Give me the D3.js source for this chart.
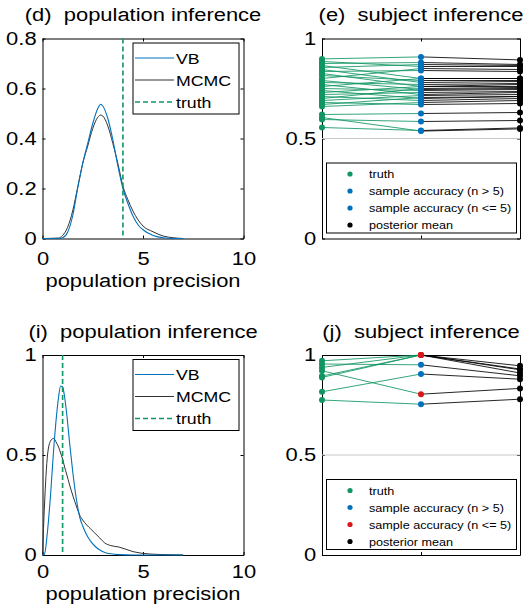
<!DOCTYPE html>
<html>
<head>
<meta charset="utf-8">
<script src="https://cdn.jsdelivr.net/npm/d3@7"></script>
<style>
body { margin: 0; background: #fff; }
svg { display: block; font-family: "Liberation Sans", Arial, sans-serif; }
</style>
</head>
<body>
<div id="fig"></div>
<script>
// ---- data ----
// (d) population inference
var precD  = [0, 0.8, 1.0, 1.25, 1.5, 1.75, 2.0, 2.25, 2.5, 2.75, 2.9, 3.0, 3.25, 3.5, 3.75, 4.0, 4.25, 4.5, 4.75, 5.0, 5.5, 6.0, 6.5, 7.0];
var vbD    = [0, 0, 0.003, 0.025, 0.09, 0.2, 0.3, 0.38, 0.46, 0.52, 0.537, 0.53, 0.48, 0.395, 0.29, 0.2, 0.14, 0.09, 0.055, 0.035, 0.012, 0.003, 0, 0];
var mcmcD  = [0, 0.002, 0.012, 0.045, 0.11, 0.205, 0.3, 0.37, 0.44, 0.485, 0.494, 0.49, 0.45, 0.38, 0.3, 0.21, 0.155, 0.11, 0.075, 0.05, 0.027, 0.01, 0.003, 0];
var truthD = 4;

// (i) population inference
var precI  = [0, 0.1, 0.25, 0.4, 0.55, 0.7, 0.8, 0.9, 1.0, 1.1, 1.2, 1.35, 1.5, 1.7, 1.85, 2.0, 2.2, 2.4, 2.6, 2.85, 3.1, 3.4, 3.8, 4.5, 5.0, 5.5, 6.0, 6.5, 7.0];
var vbI    = [0, 0.005, 0.12, 0.3, 0.52, 0.7, 0.79, 0.845, 0.84, 0.79, 0.71, 0.56, 0.42, 0.27, 0.19, 0.145, 0.1, 0.068, 0.045, 0.025, 0.013, 0.006, 0.002, 0, 0, 0, 0, 0, 0];
var mcmcI  = [0, 0.25, 0.5, 0.57, 0.583, 0.56, 0.54, 0.51, 0.48, 0.44, 0.405, 0.35, 0.3, 0.24, 0.2, 0.175, 0.15, 0.13, 0.11, 0.085, 0.06, 0.047, 0.04, 0.017, 0.008, 0.004, 0.002, 0.001, 0];
var truthI = 1;

// (e) subject inference: truth, sample accuracy, posterior mean per subject
var truthE  = [0.898, 0.885, 0.875, 0.865, 0.855, 0.845, 0.835, 0.825, 0.815, 0.80, 0.79, 0.78, 0.77, 0.76, 0.75, 0.74, 0.73, 0.72, 0.71, 0.70, 0.69, 0.68, 0.67, 0.66, 0.62, 0.605, 0.595, 0.555];
var sampleE = [0.908, 0.86, 0.88, 0.80, 0.87, 0.78, 0.84, 0.76, 0.79, 0.85, 0.745, 0.77, 0.72, 0.80, 0.74, 0.70, 0.76, 0.73, 0.69, 0.75, 0.715, 0.67, 0.705, 0.68, 0.625, 0.537, 0.585, 0.54];
var postE   = [0.893, 0.86, 0.87, 0.80, 0.865, 0.785, 0.835, 0.77, 0.79, 0.845, 0.75, 0.775, 0.73, 0.80, 0.745, 0.71, 0.76, 0.735, 0.70, 0.755, 0.72, 0.675, 0.71, 0.69, 0.63, 0.548, 0.59, 0.553];
var smallNE = [0, 0, 0, 0, 0, 0, 0, 0, 0, 0, 0, 0, 0, 0, 0, 0, 0, 0, 0, 0, 0, 0, 0, 0, 0, 0, 0, 0];

// (j) subject inference
var truthJ  = [0.971, 0.955, 0.938, 0.921, 0.895, 0.888, 0.816, 0.775];
var sampleJ = [1.0, 0.951, 1.0, 0.804, 1.0, 1.0, 0.905, 0.754];
var postJ   = [0.946, 0.896, 0.926, 0.833, 0.91, 0.93, 0.879, 0.779];
var smallNJ = [1, 0, 1, 1, 1, 1, 0, 0];

var legendPop = ["VB", "MCMC", "truth"];
var legendSubj = ["truth", "sample accuracy (n > 5)", "sample accuracy (n <= 5)", "posterior mean"];

// ---- styling ----
var W = 524, H = 608;
var SX = 1.18;           // glyphs in the original are stretched sideways
var fontBig = 18.6;
var cBlue = "#0072bd", cGreen = "#119562", cRed = "#d7191c", cGrey = "#333333";

var svg = d3.select("#fig").append("svg")
    .attr("width", W)
    .attr("height", H);

svg.append("rect").attr("width", W).attr("height", H).attr("fill", "#fff");

function label(g, x, y, txt, size, anchor) {
    return g.append("text")
        .attr("transform", "translate(" + x + "," + y + ") scale(" + SX + ",1)")
        .attr("text-anchor", anchor || "start")
        .style("font-size", size + "px")
        .style("white-space", "pre")
        .attr("fill", "#000")
        .text(txt);
}

function makePanel(left, top, w, h, xDom, xTicks, showX, xPad, yDom, yTicks) {
    var g = svg.append("g").attr("transform", "translate(" + left + "," + top + ")");
    var x = d3.scaleLinear().domain(xDom).range([0, w]);
    var y = d3.scaleLinear().domain(yDom).range([h, 0]);

    var xAxis = d3.axisBottom(x).tickValues(xTicks).tickSizeInner(-3).tickSizeOuter(0).tickPadding(xPad);
    xAxis.tickFormat(showX ? function(d) { return String(d); } : "");
    var yAxis = d3.axisLeft(y).tickValues(yTicks).tickSizeInner(-3).tickSizeOuter(0).tickPadding(5)
        .tickFormat(function(d) { return String(d); });

    var axes = [
        g.append("g").attr("transform", "translate(0," + h + ")").call(xAxis),
        g.append("g").call(yAxis),
        g.append("g").call(d3.axisTop(x).tickValues(xTicks).tickFormat("").tickSizeInner(-3).tickSizeOuter(0)),
        g.append("g").attr("transform", "translate(" + w + ",0)")
            .call(d3.axisRight(y).tickValues(yTicks).tickFormat("").tickSizeInner(-3).tickSizeOuter(0))
    ];
    axes.forEach(function(a) {
        a.attr("font-size", null).attr("font-family", null);
        a.select(".domain").attr("stroke", "#000");
        a.selectAll(".tick line").attr("stroke", "#000");
        a.selectAll(".tick text")
            .attr("transform", "scale(" + SX + ",1)")
            .style("font-size", fontBig + "px")
            .attr("fill", "#000");
    });
    return {g: g, x: x, y: y, w: w, h: h};
}

function drawPopulation(p, prec, vb, mcmc, truth, title, titleY, xlabY) {
    var line = d3.line()
        .x(function(d) { return p.x(d[0]); })
        .y(function(d) { return p.y(d[1]); })
        .curve(d3.curveMonotoneX);

    p.g.append("path")
        .datum(prec.map(function(v, i) { return [v, mcmc[i]]; }))
        .attr("d", line).attr("fill", "none").attr("stroke", cGrey).attr("stroke-width", 1);
    p.g.append("path")
        .datum(prec.map(function(v, i) { return [v, vb[i]]; }))
        .attr("d", line).attr("fill", "none").attr("stroke", cBlue).attr("stroke-width", 1.1);

    p.g.append("line")
        .attr("x1", p.x(truth)).attr("x2", p.x(truth))
        .attr("y1", 0).attr("y2", p.h)
        .attr("stroke", cGreen).attr("stroke-width", 1.6)
        .attr("stroke-dasharray", "5,3");

    // legend
    var lg = p.g.append("g").attr("transform", "translate(90.5,4.5)");
    lg.append("rect").attr("width", 106).attr("height", 71)
        .attr("fill", "#fff").attr("stroke", "#000");
    var styles = [
        {c: cBlue, dash: null},
        {c: cGrey, dash: null},
        {c: cGreen, dash: "5,3"}
    ];
    legendPop.forEach(function(t, i) {
        var yy = 15 + i * 22;
        lg.append("line").attr("x1", 2).attr("x2", 41).attr("y1", yy).attr("y2", yy)
            .attr("stroke", styles[i].c).attr("stroke-width", i === 2 ? 1.6 : 1.1)
            .attr("stroke-dasharray", styles[i].dash);
        label(lg, 43, yy + 5.5, t, 15, "start");
    });

    label(p.g, p.w / 2, titleY, title, fontBig, "middle");
    label(p.g, p.w / 2, xlabY, "population precision", fontBig, "middle");
}

function drawSubjects(p, truth, sample, post, smallN, title, titleY) {
    p.g.append("line")
        .attr("x1", 0).attr("x2", p.w)
        .attr("y1", p.y(0.5)).attr("y2", p.y(0.5))
        .attr("stroke", "#c8c8c8").attr("stroke-width", 1);

    var lines = p.g.append("g");
    truth.forEach(function(t, i) {
        lines.append("line")
            .attr("x1", p.x(1)).attr("y1", p.y(t))
            .attr("x2", p.x(2)).attr("y2", p.y(sample[i]))
            .attr("stroke", cGreen).attr("stroke-width", 1).attr("stroke-opacity", 0.85);
        lines.append("line")
            .attr("x1", p.x(2)).attr("y1", p.y(sample[i]))
            .attr("x2", p.x(3)).attr("y2", p.y(post[i]))
            .attr("stroke", "#000").attr("stroke-width", 1).attr("stroke-opacity", 0.85);
    });

    var dots = p.g.append("g");
    truth.forEach(function(t, i) {
        dots.append("circle").attr("cx", p.x(1)).attr("cy", p.y(t)).attr("r", 3).attr("fill", cGreen);
        dots.append("circle").attr("cx", p.x(2)).attr("cy", p.y(sample[i])).attr("r", 3)
            .attr("fill", smallN[i] ? cRed : cBlue);
        dots.append("circle").attr("cx", p.x(3)).attr("cy", p.y(post[i])).attr("r", 3).attr("fill", "#000");
    });

    // legend
    var lg = p.g.append("g").attr("transform", "translate(4.5,124.5)");
    lg.append("rect").attr("width", 190).attr("height", 70)
        .attr("fill", "#fff").attr("stroke", "#000");
    var cols = [cGreen, cBlue, smallN.some(function(s) { return s; }) ? cRed : cBlue, "#000"];
    legendSubj.forEach(function(t, i) {
        var yy = 11 + i * 17;
        lg.append("circle").attr("cx", 23.5).attr("cy", yy).attr("r", 2.6).attr("fill", cols[i]);
        label(lg, 42.5, yy + 4, t, 10.7, "start");
    });

    label(p.g, p.w / 2, titleY, title, fontBig, "middle");
}

// ---- panels ----
var pD = makePanel(42.5, 38.5, 201, 200, [0, 10], [0, 5, 10], true, 13, [0, 0.8], [0, 0.2, 0.4, 0.6, 0.8]);
drawPopulation(pD, precD, vbD, mcmcD, truthD, "(d)  population inference", -17.5, 248);

var pE = makePanel(322, 38.5, 198, 200, [1, 3], [1, 2, 3], false, 13, [0, 1], [0, 0.5, 1]);
drawSubjects(pE, truthE, sampleE, postE, smallNE, "(e)  subject inference", -17.5);

var pI = makePanel(42.5, 355, 201, 200, [0, 10], [0, 5, 10], true, 10, [0, 1], [0, 0.5, 1]);
drawPopulation(pI, precI, vbI, mcmcI, truthI, "(i)  population inference", -17, 245);

var pJ = makePanel(322, 355, 198, 200, [1, 3], [1, 2, 3], false, 13, [0, 1], [0, 0.5, 1]);
drawSubjects(pJ, truthJ, sampleJ, postJ, smallNJ, "(j)  subject inference", -17);
</script>
</body>
</html>
